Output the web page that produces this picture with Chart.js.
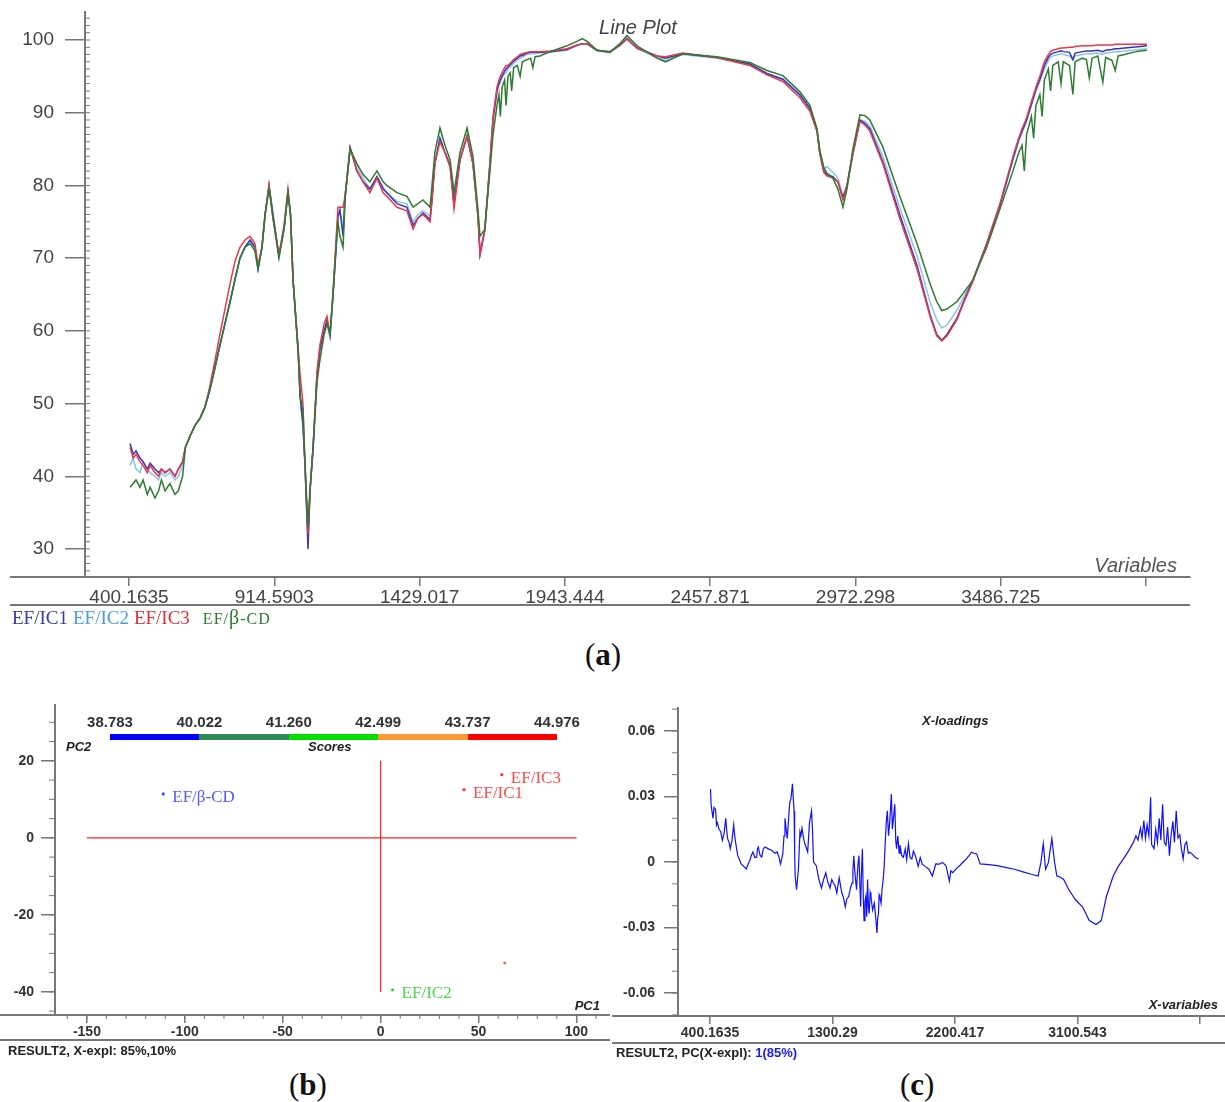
<!DOCTYPE html>
<html>
<head>
<meta charset="utf-8">
<script src="https://cdn.jsdelivr.net/npm/chart.js@4.4.1/dist/chart.umd.min.js"></script>
<style>
  body { margin: 0; background: #fff; }
  #page { position: relative; width: 1225px; height: 1102px; overflow: hidden;
          font-family: "Liberation Sans", Arial, sans-serif; color: #222; }
  canvas { position: absolute; }
  .t { position: absolute; white-space: nowrap; line-height: 1; }
  .ax { font-style: italic; font-weight: bold; font-size: 13px; color: #222; }
  .cap { font-family: "Liberation Serif", serif; font-size: 31px; color: #111; }
  .leg { font-family: "Liberation Serif", serif; font-size: 19px; }
  .cb { position: absolute; top: 44px; height: 6px; }
  .cbl { position: absolute; top: 24px; font-size: 15px; font-weight: bold; color: #333; transform: translateX(-50%); }
</style>
</head>
<body>
<div id="page">
  <canvas id="chartA" width="1225" height="610" style="left:0;top:0"></canvas>
  <canvas id="chartB" width="610" height="360" style="left:0;top:690px"></canvas>
  <canvas id="chartC" width="615" height="360" style="left:610px;top:690px"></canvas>

  <!-- panel a texts -->
  <div class="t" style="left:578px;top:17px;width:120px;text-align:center;font-style:italic;font-size:20px;color:#444">Line Plot</div>
  <div class="t" style="right:48px;top:555px;font-style:italic;font-size:20px;color:#555">Variables</div>
  <div class="t leg" style="left:12px;top:607px">
    <span style="color:#3a3aa8">EF/IC1</span><span style="color:#4a9ee0;margin-left:5px">EF/IC2</span><span style="color:#e0303a;margin-left:5px">EF/IC3</span><span style="color:#2d7a2d;font-size:16px;letter-spacing:1px;margin-left:13px">EF/<span style="font-size:20px">β</span>-CD</span>
  </div>
  <div class="t cap" style="left:585px;top:639px">(<b>a</b>)</div>

  <!-- panel b texts -->
  <div id="colorbar" class="t" style="left:110px;top:690px;width:447px;height:60px"></div>
  <div class="t ax" style="left:66px;top:740px">PC2</div>
  <div class="t ax" style="left:308px;top:740px">Scores</div>
  <div class="t ax" style="right:625px;top:999px">PC1</div>
  <div class="t" style="left:8px;top:1044px;font-size:13px;font-weight:bold">RESULT2, X-expl: 85%,10%</div>
  <div class="t cap" style="left:289px;top:1069px">(<b>b</b>)</div>

  <!-- panel c texts -->
  <div class="t ax" style="left:922px;top:714px">X-loadings</div>
  <div class="t ax" style="right:7px;top:998px">X-variables</div>
  <div class="t" style="left:616px;top:1046px;font-size:13px;font-weight:bold">RESULT2, PC(X-expl): <span style="color:#1a1aff">1(85%)</span></div>
  <div class="t cap" style="left:900px;top:1069px">(<b>c</b>)</div>
</div>

<script>
// ---------- panel (a): spectra ----------
const wavenumber = [404,415,425,439,450,465,475,492,505,515,
  528,545,563,575,590,600,616,634,652,669,
  687,705,722,740,758,775,793,811,829,846,
  857,871,882,896,910,931,949,963,972,981,
  999,1006,1016,1023,1034,1041,1052,1066,1076,1091,
  1101,1112,1122,1140,1147,1158,1165,1183,1207,1229,
  1253,1278,1300,1313,1349,1384,1406,1423,1441,1466,
  1473,1483,1501,1519,1537,1551,1572,1597,1618,1636,
  1643,1660,1678,1689,
  1703,1710,1715,1721,1730,1735,1742,1750,1755,1762,1775,1785,1793,1809,1822,1830,1838,1855,
  1891,1951,1986,2005,2022,2057,2103,2138,2163,2199,
  2269,2300,2361,2482,2598,2659,2715,2775,2811,2836,
  2846,2860,2871,2892,2910,2928,2942,2963,2988,3006,
  3023,3069,3129,3190,3236,3260,3278,3296,3331,3360,
  3388,3437,3484,3530,
  3550,3562,3570,3578,3595,3603,3611,3625,3633,3641,
  3655,3663,3671,3690,3700,3708,3730,3742,3750,3775,
  3790,3800,3810,3830,3848,3858,3880,3892,3902,3925,
  3954,3980,4004];

const efIc1 = [44.5,43.0,43.5,42.5,42.0,41.0,41.8,41.0,40.5,41.0,
  40.5,41.0,40.0,41.0,42.0,44.0,45.5,47,48,49.5,
  52,55,58,61,64,67,70,71.5,72.5,71.5,
  68.5,71.5,76,80,76,70.3,74,79,76,67,
  57.4,51,47,41.8,30,38,44,54,57.4,60,
  61.5,59.5,64.7,75.7,76.6,73,78.4,85.2,82,80.5,
  79.5,81.2,79.5,79,77.5,77,74.5,75.5,76.2,75.3,
  78,83,86.5,84.5,82.8,77.5,83.5,86.8,83,75.7,
  70.5,73.9,83,89,
  93,94,94.5,95,95.7,96,96.3,96.6,96.8,97.1,97.5,97.8,97.9,98.2,98.3,98.3,98.3,98.3,
  98.4,98.7,99.3,99.5,99.5,98.6,98.4,99.3,100.2,98.9,
  97.8,97.5,98.1,97.6,96.7,95.4,94.6,92.5,90.6,87.6,
  84.5,82,81.5,81.2,80.5,78.3,80,84.5,89,88.5,
  87.8,83.3,76,69,62.3,59.5,58.7,59.5,61.7,64.5,
  67,72,77.3,83.7,
  86.3,87.5,88.2,89,91.2,92.2,93.2,94.6,95.5,96.5,
  97.6,98,98.2,98.4,98.5,98.4,98.3,97.3,98.2,98.4,
  98.5,98.5,98.5,98.6,98.4,98.6,98.7,98.8,98.8,98.9,
  99,99.1,99.2];

const efIc2 = [41.5,42.5,41.0,40.5,42.0,41.0,40.5,40.0,39.5,40.5,
  40.0,40.5,39.5,40.0,41.5,44.0,45.5,47,48,49.5,
  52,55,58,61,64,67,70,71.5,72.5,71.5,
  68.5,71.5,76,80,76,70.3,74,79,76,67,
  57.4,51,47,41.8,31,38,44,54,56,60,
  61,59,64.7,75.7,76.6,74,78.4,85.2,82.5,81,
  79.5,81.2,79.8,79,77.8,77.5,75,76,76.5,75.8,
  78.5,83,86.5,84.5,82.8,78,83.5,86.8,83,75.7,
  71,74,83,89,
  93,93.8,94.2,95,95.3,95.5,96,96.3,96.5,96.8,97.2,97.5,97.7,98,98.1,98.1,98.1,98.2,
  98.3,98.6,99.2,99.4,99.4,98.5,98.3,99.2,100,98.8,
  97.6,97.2,98,97.5,96.6,95.3,94.6,92.4,90.5,87.6,
  84.5,82.3,82.6,81.8,81,78.5,80,84.5,89,88.8,
  88.2,84,77,70.3,64,61.5,60.4,60.8,62.8,65,
  67,72,77.3,83.5,
  86,87.3,88,88.8,91,92,93,94.3,95.2,96,
  97.2,97.6,97.8,98,98.1,98,97.8,97.3,97.8,98,
  98.1,98.1,98.1,98.2,98,98.2,98.3,98.4,98.4,98.5,
  98.6,98.7,98.8];

const efIc3 = [44.0,42.5,43.0,42.0,41.5,40.5,41.5,40.5,40.0,41.0,
  40.5,41.0,40.0,41.0,42.0,44.0,45.5,47,48,49.5,
  52.5,56,59.5,63,66.5,69.5,71.5,72.5,73,72,
  69,71.5,76,80,75.5,70.5,74.5,79.5,76,67,
  57.5,54,50,42,32,38,44,54.5,58,61,
  62,59.5,65,77,77,77,78.5,85.2,82,80.5,
  79,81,79,78.5,77,76.5,74,75.5,76,75,
  78,83,86,84.5,82.5,76.8,83.5,86.8,83,75.5,
  70.5,73.9,83,89.5,
  93.5,94.5,95,95.5,96.2,96.5,96.5,96.8,97,97.3,97.7,98,98.1,98.3,98.4,98.4,98.4,98.4,
  98.5,98.8,99.3,99.5,99.5,98.6,98.4,99.3,100.2,98.9,
  97.8,97.7,98.2,97.6,96.5,95.2,94.3,92.1,90.2,87.4,
  84.3,81.8,81.3,81,80.5,78,79.8,84.2,88.8,88.3,
  87.5,83,75.5,68.5,62,59.3,58.6,59.3,61.5,64.3,
  66.8,72,77.5,84,
  86.5,87.8,88.5,89.3,91.5,92.5,93.5,95,96,97,
  98,98.4,98.6,98.8,98.9,98.9,99,99,99.1,99.2,
  99.2,99.2,99.2,99.3,99.3,99.3,99.3,99.4,99.4,99.4,
  99.4,99.4,99.4];

const efBcd = [38.5,39.0,39.5,38.5,39.5,37.5,38.5,37.0,38.0,39.5,
  38.0,39.0,37.5,38.0,40.0,44.0,45.5,47,48,49.5,
  52,55,58,61,64,67,70,71.5,72,71,
  68.5,71.5,76,79.5,75.5,70,74,79,76,67,
  57,51,49,42,33,38,44,53,56,59.5,
  61,59.5,64.7,75,73,71.5,78,85,83,81.5,
  80.5,82,80.5,80,79,78.5,77,77.5,78,77,
  80,84.5,87.9,85.5,83.5,79,84.5,87.9,84,76.5,
  73,74,82,87,
  91,92.5,89.5,93.5,94.5,91,95,95.5,93,96.2,96.5,95,97,97.3,97.5,96.2,97.7,97.8,
  98.4,99.2,99.8,100.2,99.8,98.6,98.3,99.5,100.6,99.2,
  97.5,97,98.1,97.7,96.9,95.8,95.1,92.9,91,87.8,
  84.8,82.5,81.7,81,79.5,77,79.5,85,89.7,89.6,
  89,85.3,78.5,72,66.5,64,62.8,63,64,65.5,
  67,71.5,76.8,82,
  84.5,85.5,82,87,89.5,86.5,91,92.5,89.5,94.5,
  96,93,96.5,97,94,97,96.5,92.5,97,97.5,
  97.3,94.8,97.5,97.8,94.2,97.6,97.2,95.8,97.8,98,
  98.3,98.5,98.6];

const xTicksA = [400.1635, 914.5903, 1429.017, 1943.444, 2457.871, 2972.298, 3486.725, 4001.152];
const xTickLabelsA = ["400.1635", "914.5903", "1429.017", "1943.444", "2457.871", "2972.298", "3486.725", ""];
const yTicksA = [30, 40, 50, 60, 70, 80, 90, 100];

// ---------- panel (b): scores ----------
const scoreNames = ["EF/IC1", "EF/IC2", "EF/IC3", "EF/β-CD", ""];
const scorePC1 = [42.6, 6.1, 61.9, -111, 63.4];
const scorePC2 = [12.5, -39.5, 16.4, 11.4, -32.5];
const xTicksB = [-150, -100, -50, 0, 50, 100];
const yTicksB = [-40, -20, 0, 20];
const colorbarTicks = ["38.783", "40.022", "41.260", "42.499", "43.737", "44.976"];

// ---------- panel (c): loadings ----------
const loadWn = [404,408,415,422,430,441,448,454,466,479,
  491,503,516,522,529,540,549,562,574,582,
  591,604,617,629,648,667,680,692,704,716,
  730,743,749,755,768,780,792,804,830,855,
  875,893,908,918,935,944,951,960,968,978,
  986,995,1006,1012,1018,1022,1026,1036,1043,1050,
  1061,1068,1076,1085,1093,1105,1118,1131,1146,1153,
  1161,1181,1200,1219,1235,1251,1265,1282,1295,1306,
  1320,1332,1349,1360,1369,1380,1394,1405,1419,1432,
  1444,1450,1457,1465,1477,1486,1495,1501,1507,1513,
  1520,1526,1532,1539,1545,1552,1558,1564,1570,1577,
  1583,1595,1608,1617,1627,1632,1638,1643,1648,1657,
  1665,1673,1680,1688,1695,1703,1712,1721,1733,1740,
  1746,1758,1765,1771,1780,1790,1796,1808,1821,1835,
  1845,1858,1870,1883,1895,1909,1930,1945,1959,1980,
  2009,2034,2059,2085,2109,2134,2159,2170,2184,2210,
  2234,2260,2285,2305,2322,2340,2360,2385,2450,2510,
  2570,2636,2700,2761,2811,2832,2849,2866,2887,2912,
  2932,2949,2975,2999,3037,3087,3137,3187,3237,3275,
  3313,3363,3400,3438,3475,3513,3530,3545,3563,3575,
  3588,3600,3612,3625,3638,3645,3663,3675,3688,3701,
  3713,3726,3738,3751,3763,3776,3788,3801,3813,3826,
  3839,3852,3864,3877,3890,3902,3915,3927,3945,3965,
  3990];
const loadVal = [0.0334,0.0264,0.0230,0.0200,0.0250,0.0240,0.0170,0.0180,0.0150,0.0139,
  0.0100,0.0130,0.0200,0.0150,0.0108,0.0090,0.0061,0.0100,0.0170,0.0120,
  0.0078,0.0029,0.0010,-0.0009,-0.0020,-0.0032,-0.0010,0.0006,0.0030,0.0046,
  0.0020,0.0023,0.0060,0.0069,0.0030,0.0023,0.0060,0.0069,0.0060,0.0053,
  0.0040,0.0046,0.0020,-0.0009,0.0037,0.0120,0.0200,0.0150,0.0108,0.0200,
  0.0272,0.0290,0.0358,0.0290,0.0234,0.0050,-0.0064,-0.0127,-0.0080,-0.0032,
  0.0139,0.0120,0.0155,0.0120,0.0092,0.0070,0.0046,0.0179,0.0234,0.0150,
  0.0000,-0.0017,-0.0080,-0.0119,-0.0080,-0.0049,-0.0090,-0.0119,-0.0080,-0.0096,
  -0.0110,-0.0142,-0.0072,-0.0110,-0.0142,-0.0160,-0.0205,-0.0170,-0.0158,-0.0120,
  -0.0096,-0.0040,0.0029,-0.0050,-0.0127,-0.0020,0.0029,-0.0100,-0.0205,-0.0050,
  0.0061,-0.0150,-0.0268,-0.0180,-0.0158,-0.0250,-0.0080,-0.0200,-0.0236,-0.0140,
  -0.0158,-0.0220,-0.0189,-0.0250,-0.0325,-0.0260,-0.0236,-0.0150,-0.0158,-0.0189,
  -0.0120,-0.0080,-0.0020,0.0092,0.0180,0.0234,0.0120,0.0186,0.0311,0.0150,
  0.0186,0.0264,0.0100,0.0061,0.0120,0.0040,0.0077,0.0030,0.0022,0.0060,
  0.0010,0.0084,0.0020,0.0014,0.0050,0.0029,-0.0020,0.0020,-0.0009,-0.0020,
  -0.0033,-0.0064,-0.0009,-0.0010,-0.0002,-0.0017,-0.0088,-0.0040,-0.0049,-0.0030,
  -0.0017,0.0000,0.0014,0.0030,0.0045,0.0040,0.0037,-0.0009,-0.0012,-0.0017,
  -0.0025,-0.0033,-0.0045,-0.0056,-0.0064,-0.0002,0.0084,-0.0033,-0.0002,0.0108,
  -0.0002,-0.0064,-0.0070,-0.0080,-0.0127,-0.0174,-0.0205,-0.0268,-0.0286,-0.0268,
  -0.0158,-0.0064,-0.0020,0.0014,0.0050,0.0092,0.0120,0.0100,0.0155,0.0110,
  0.0190,0.0108,0.0170,0.0120,0.0296,0.0080,0.0061,0.0150,0.0090,0.0200,
  0.0100,0.0264,0.0090,0.0077,0.0160,0.0029,0.0120,0.0186,0.0090,0.0234,
  0.0110,0.0124,0.0060,0.0014,0.0080,0.0092,0.0040,0.0045,0.0035,0.0022,
  0.0014];
const xTicksC = [400.1635, 1300.29, 2200.417, 3100.543, 4000.67];
const xTickLabelsC = ["400.1635", "1300.29", "2200.417", "3100.543", ""];
const yTicksC = [-0.06, -0.03, 0, 0.03, 0.06];
const yTickLabelsC = ["-0.06", "-0.03", "0", "0.03", "0.06"];

// styles
const seriesColors = { ic1: "#3535b5", ic2: "#8cc4f0", ic3: "#e8384a", bcd: "#2e7b32" };
const scoreColors = ["#ff3535", "#33dd33", "#ff3535", "#4444ff", "#ff6060"];
const labelColors = ["#ff4a4a", "#44dd44", "#ff4a4a", "#5a5af0", "#ff4a4a"];
const colorbarColors = ["#0000ff", "#2e8b57", "#00e000", "#ff9933", "#ff0000"];

Chart.defaults.font.family = "'Liberation Sans', Arial, sans-serif";
Chart.defaults.color = "#222";

// minor ticks + the long frame lines under each plot
const axisDecor = {
  id: "axisDecor",
  afterDraw(chart, args, opts) {
    const ctx = chart.ctx, area = chart.chartArea;
    ctx.save();
    ctx.strokeStyle = opts.color || "#777";
    (opts.minor || []).forEach(m => {
      const sc = chart.scales[m.axis];
      const n = Math.round((m.to - m.from) / m.step);
      ctx.lineWidth = 1;
      for (let i = 0; i <= n; i++) {
        const p = sc.getPixelForValue(m.from + i * m.step);
        ctx.beginPath();
        if (m.axis === "y") {
          if (p < area.top || p > area.bottom) continue;
          ctx.moveTo(area.left + m.off, p); ctx.lineTo(area.left + m.off + m.len, p);
        } else {
          if (p < area.left || p > area.right) continue;
          ctx.moveTo(p, area.bottom); ctx.lineTo(p, area.bottom + m.len);
        }
        ctx.stroke();
      }
    });
    ctx.lineWidth = 2;
    (opts.lines || []).forEach(l => {
      const y = l.y === "axis" ? area.bottom : l.y;
      ctx.beginPath(); ctx.moveTo(l.x0, y); ctx.lineTo(l.x1, y); ctx.stroke();
    });
    ctx.restore();
  }
};

// names written beside the score points
const pointLabels = {
  id: "pointLabels",
  afterDatasetsDraw(chart, args, opts) {
    if (!opts.names) return;
    const meta = chart.getDatasetMeta(opts.datasetIndex);
    const ctx = chart.ctx;
    ctx.save();
    ctx.font = opts.font;
    ctx.textBaseline = "middle";
    meta.data.forEach((el, i) => {
      if (!opts.names[i]) return;
      ctx.fillStyle = opts.colors[i];
      ctx.fillText(opts.names[i], el.x + 9, el.y + 4);
    });
    ctx.restore();
  }
};
Chart.register(axisDecor, pointLabels);

const xy = (xs, ys) => xs.map((x, i) => ({ x: x, y: ys[i] }));
const setTicks = vals => scale => { scale.ticks = vals.map(v => ({ value: v })); };
// fixed axis box sizes, no extra label overflow padding
const fixY = w => s => { s.width = w; s.paddingTop = 0; s.paddingBottom = 0; };
const fixX = h => s => { s.height = h; s.paddingLeft = 0; s.paddingRight = 0; };

// ---- chart a
new Chart(document.getElementById("chartA"), {
  type: "line",
  data: {
    datasets: [
      { label: "EF/IC2", data: xy(wavenumber, efIc2), borderColor: seriesColors.ic2, order: 4 },
      { label: "EF/IC1", data: xy(wavenumber, efIc1), borderColor: seriesColors.ic1, order: 3 },
      { label: "EF/IC3", data: xy(wavenumber, efIc3), borderColor: seriesColors.ic3, order: 2 },
      { label: "EF/β-CD", data: xy(wavenumber, efBcd), borderColor: seriesColors.bcd, order: 1 }
    ]
  },
  options: {
    responsive: false, animation: false,
    layout: { padding: { top: 12, right: 35, left: 0, bottom: 0 } },
    elements: { point: { radius: 0 }, line: { borderWidth: 1.5, tension: 0 } },
    plugins: {
      legend: { display: false }, tooltip: { enabled: false },
      axisDecor: {
        minor: [{ axis: "y", from: 27, to: 103, step: 1, off: 0, len: 5 }],
        lines: [{ y: "axis", x0: 10, x1: 1190 }, { y: 605, x0: 10, x1: 1190 }]
      }
    },
    scales: {
      x: {
        type: "linear", min: 244.4, max: 4156.6,
        afterFit: fixX(33),
        afterBuildTicks: setTicks(xTicksA),
        ticks: { callback: (v, i) => xTickLabelsA[i], font: { size: 19 }, color: "#444", padding: 0, maxRotation: 0, autoSkip: false },
        grid: { drawOnChartArea: false, tickLength: 9, color: "#777", lineWidth: 1.5 },
        border: { color: "#777", width: 2 }
      },
      y: {
        min: 26.15, max: 103.85,
        afterFit: fixY(85),
        afterBuildTicks: setTicks(yTicksA),
        ticks: { font: { size: 19 }, color: "#444", padding: 11 },
        grid: { drawOnChartArea: false, tickLength: 20, color: "#777", lineWidth: 1.5 },
        border: { color: "#777", width: 2 }
      }
    }
  }
});

// ---- chart b
new Chart(document.getElementById("chartB"), {
  type: "scatter",
  data: {
    datasets: [
      { data: xy(scorePC1, scorePC2), pointRadius: 1.6, pointBackgroundColor: scoreColors, pointBorderWidth: 0 },
      { type: "line", data: xy([0, 0], [20, -40]), borderColor: "#ff2020", borderWidth: 1.2, pointRadius: 0 },
      { type: "line", data: xy([-150, 100], [0, 0]), borderColor: "#ff2020", borderWidth: 1.2, pointRadius: 0 }
    ]
  },
  options: {
    responsive: false, animation: false,
    layout: { padding: { top: 15, right: 0, left: 0, bottom: 0 } },
    plugins: {
      legend: { display: false }, tooltip: { enabled: false },
      pointLabels: { datasetIndex: 0, names: scoreNames, colors: labelColors, font: "17px 'Liberation Serif', serif" },
      axisDecor: {
        minor: [{ axis: "y", from: -45, to: 30, step: 5, off: -6, len: 6 },
                { axis: "x", from: -160, to: 110, step: 10, len: 4 }],
        lines: [{ y: "axis", x0: 0, x1: 610 }, { y: 350, x0: 0, x1: 610 }]
      }
    },
    scales: {
      x: {
        type: "linear", min: -166.3, max: 115.1,
        afterFit: fixX(35),
        afterBuildTicks: setTicks(xTicksB),
        ticks: { font: { size: 14, weight: "bold" }, color: "#333", padding: 1, maxRotation: 0, autoSkip: false },
        grid: { drawOnChartArea: false, tickLength: 8, color: "#777", lineWidth: 1.5 },
        border: { color: "#777", width: 2 }
      },
      y: {
        min: -46, max: 34.5,
        afterFit: fixY(55),
        afterBuildTicks: setTicks(yTicksB),
        ticks: { font: { size: 14, weight: "bold" }, color: "#333", padding: 7 },
        grid: { drawOnChartArea: false, tickLength: 14, color: "#777", lineWidth: 1.5 },
        border: { color: "#777", width: 2 }
      }
    }
  }
});

// ---- chart c
new Chart(document.getElementById("chartC"), {
  type: "line",
  data: {
    datasets: [
      { data: xy(loadWn, loadVal), borderColor: "#1010ff", borderWidth: 1.2, pointRadius: 0, tension: 0 }
    ]
  },
  options: {
    responsive: false, animation: false,
    layout: { padding: { top: 18, right: 0, left: 0, bottom: 0 } },
    plugins: {
      legend: { display: false }, tooltip: { enabled: false },
      axisDecor: {
        minor: [{ axis: "y", from: -0.07, to: 0.07, step: 0.01, off: -6, len: 6 }],
        lines: [{ y: "axis", x0: 2, x1: 615 }, { y: 353, x0: 2, x1: 615 }]
      }
    },
    scales: {
      x: {
        type: "linear", min: 165, max: 4184.4,
        afterFit: fixX(34),
        afterBuildTicks: setTicks(xTicksC),
        ticks: { callback: (v, i) => xTickLabelsC[i], font: { size: 14, weight: "bold" }, color: "#333", padding: 1, maxRotation: 0, autoSkip: false },
        grid: { drawOnChartArea: false, tickLength: 8, color: "#777", lineWidth: 1.5 },
        border: { color: "#777", width: 2 }
      },
      y: {
        min: -0.0705, max: 0.0705,
        afterFit: fixY(68),
        afterBuildTicks: setTicks(yTicksC),
        ticks: { callback: (v, i) => yTickLabelsC[i], font: { size: 14, weight: "bold" }, color: "#333", padding: 9 },
        grid: { drawOnChartArea: false, tickLength: 14, color: "#777", lineWidth: 1.5 },
        border: { color: "#777", width: 2 }
      }
    }
  }
});

// colour scale of the scores plot
const bar = document.getElementById("colorbar");
const segW = 447 / colorbarColors.length;
colorbarColors.forEach((c, i) => {
  bar.innerHTML += `<div class="cb" style="left:${i * segW}px;width:${segW + 0.5}px;background:${c}"></div>`;
});
colorbarTicks.forEach((t, i) => {
  bar.innerHTML += `<div class="cbl" style="left:${i * segW}px">${t}</div>`;
});
</script>
</body>
</html>
